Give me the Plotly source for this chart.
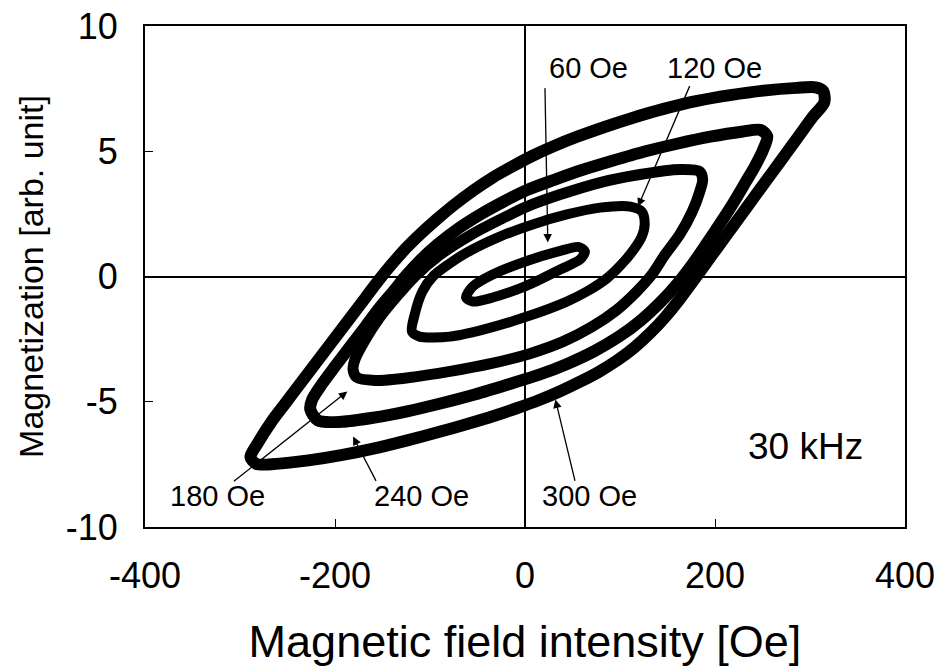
import plotly.graph_objects as go

# ---- data (H in Oe, M in arb. unit) ----
H_300 = [-289, -282, -266, -252, -238, -224, -210, -196, -182, -168, -154, -140, -126, -110, -93, -75, -55, -34, -13, 8, 30,
         55, 83, 113, 145, 180, 216, 251, 286, 306, 314, 315,
         303, 289, 275, 261, 247, 233, 219, 205, 191, 177, 163, 148, 132, 115, 97, 78, 58, 37, 15,
         -8, -33, -60, -90, -122, -156, -192, -228, -262, -283, -289]
M_300 = [-7.2, -6.7, -5.75, -5.05, -4.35, -3.65, -2.95, -2.25, -1.55, -0.85, -0.15, 0.5, 1.1, 1.7, 2.28, 2.85, 3.42, 3.95, 4.4, 4.82, 5.2,
         5.58, 5.96, 6.33, 6.68, 7.0, 7.24, 7.42, 7.53, 7.55, 7.4, 6.95,
         6.38, 5.65, 4.92, 4.19, 3.47, 2.74, 2.01, 1.28, 0.55, -0.18, -0.9, -1.6, -2.25, -2.84, -3.35, -3.8, -4.2, -4.58, -4.93,
         -5.25, -5.57, -5.88, -6.2, -6.52, -6.84, -7.12, -7.34, -7.48, -7.48, -7.2]

H_240 = [-226, -224, -214, -200, -184, -168, -153, -137, -126, -111, -92, -70, -46, -22, 2, 30, 60, 92, 125, 160, 195, 228, 248, 255,
         250, 242, 232, 220, 206, 191, 176, 160, 142, 122, 99, 73, 45, 15, -17, -52, -88, -124, -160, -193, -218, -226]
M_240 = [-5.3, -4.91, -4.31, -3.59, -2.79, -2.0, -1.24, -0.52, 0, 0.62, 1.28, 1.92, 2.5, 3.0, 3.45, 3.85, 4.25, 4.62, 4.98, 5.3, 5.58, 5.78, 5.85, 5.6,
         5.0, 4.4, 3.75, 2.98, 2.15, 1.3, 0.48, -0.3, -1.05, -1.75, -2.4, -2.98, -3.48, -3.92, -4.3, -4.7, -5.06, -5.38, -5.64, -5.8, -5.75, -5.3]

H_180 = [-181, -179, -168, -153, -135, -116, -89, -58, -26, 2, 37, 79, 121, 163, 184, 187,
         184, 176, 163, 147, 134, 117, 96, 70, 40, 5, -35, -79, -121, -158, -177, -181]
M_180 = [-3.71, -3.31, -2.51, -1.64, -0.8, 0, 0.88, 1.64, 2.28, 2.79, 3.27, 3.75, 4.07, 4.27, 4.19, 3.87,
         3.39, 2.59, 1.68, 0.85, 0.1, -0.62, -1.35, -2.02, -2.6, -3.08, -3.47, -3.79, -4.03, -4.15, -4.03, -3.71]

H_120 = [-119, -116, -108, -97, -80, -61, -26, 8, 44, 79, 111, 123, 126,
         123, 115, 102, 87, 66, 44, 2, -44, -79, -111, -119]
M_120 = [-2.2, -1.5, -0.6, 0, 0.5, 0.96, 1.6, 2.08, 2.48, 2.75, 2.79, 2.59, 2.1,
         1.6, 1.1, 0.5, -0.05, -0.58, -1.0, -1.6, -2.12, -2.4, -2.4, -2.2]

H_60 = [-62, -55, -34, 2, 37, 56, 63, 58, 37, 2, -34, -55, -62]
M_60 = [-0.84, -0.4, 0.08, 0.62, 1.02, 1.18, 1.0, 0.68, 0.28, -0.36, -0.84, -1.0, -0.84]

loops = [(H_300, M_300, 12), (H_240, M_240, 12), (H_180, M_180, 11), (H_120, M_120, 10), (H_60, M_60, 10)]

x_ticks = [-400, -200, 0, 200, 400]
x_ticktext = ["-400", "-200", "0", "200", "400"]
y_ticks = [-10, -5, 0, 5, 10]
y_ticktext = ["-10", "-5", "0", "5", "10"]

# labels: (text, text position, arrow head, arrow tail)
labels = [
    ("60 Oe", (67, 8.34), (24, 1.36), (21, 7.58)),
    ("120 Oe", (199, 8.34), (119, 2.79), (174, 7.66)),
    ("180 Oe", (-324, -8.78), (-187, -4.59), (-308, -8.22)),
    ("240 Oe", (-109, -8.78), (-181, -6.39), (-156, -8.22)),
    ("300 Oe", (68, -8.78), (32, -4.91), (53, -8.22)),
]
freq_label = ("30 kHz", (295, -6.79))

FONT = "Liberation Sans, Arial, sans-serif"

fig = go.Figure()
for H, M, w in loops:
    fig.add_trace(go.Scatter(x=H, y=M, mode="lines",
                             line=dict(color="black", width=w, shape="spline", smoothing=0.8),
                             hoverinfo="skip", showlegend=False))

for text, (tx, ty), (hx, hy), (ax, ay) in labels:
    fig.add_annotation(x=hx, y=hy, ax=ax, ay=ay, xref="x", yref="y", axref="x", ayref="y",
                       text="", showarrow=True, arrowhead=2, arrowsize=1.3, arrowwidth=1.3,
                       arrowcolor="black", standoff=0, startstandoff=0)
    fig.add_annotation(x=tx, y=ty, xref="x", yref="y", text=text, showarrow=False,
                       font=dict(family=FONT, size=29, color="black"))

fig.add_annotation(x=freq_label[1][0], y=freq_label[1][1], xref="x", yref="y", text=freq_label[0],
                   showarrow=False, font=dict(family=FONT, size=37, color="black"))

fig.update_layout(
    width=943, height=670,
    margin=dict(l=145, r=38, t=26, b=143, autoexpand=False),
    paper_bgcolor="white", plot_bgcolor="white",
    font=dict(family=FONT, color="black"),
    xaxis=dict(range=[-400, 400], tickvals=x_ticks, ticktext=x_ticktext, automargin=False,
               ticks="inside", ticklen=8, tickwidth=1.2, tickcolor="black",
               showline=True, linecolor="black", linewidth=2, mirror=True,
               showgrid=False, zeroline=True, zerolinecolor="black", zerolinewidth=1.5,
               tickfont=dict(size=36), ticklabelstandoff=16,
               title=dict(text="Magnetic field intensity [Oe]", font=dict(size=45), standoff=30)),
    yaxis=dict(range=[-10, 10], tickvals=y_ticks, ticktext=y_ticktext, automargin=False,
               ticks="inside", ticklen=8, tickwidth=1.2, tickcolor="black",
               showline=True, linecolor="black", linewidth=2, mirror=True,
               showgrid=False, zeroline=True, zerolinecolor="black", zerolinewidth=1.5,
               tickfont=dict(size=36), ticklabelstandoff=18,
               title=dict(text="Magnetization [arb. unit]", font=dict(size=34), standoff=12)),
)

fig.write_html("out.html")
